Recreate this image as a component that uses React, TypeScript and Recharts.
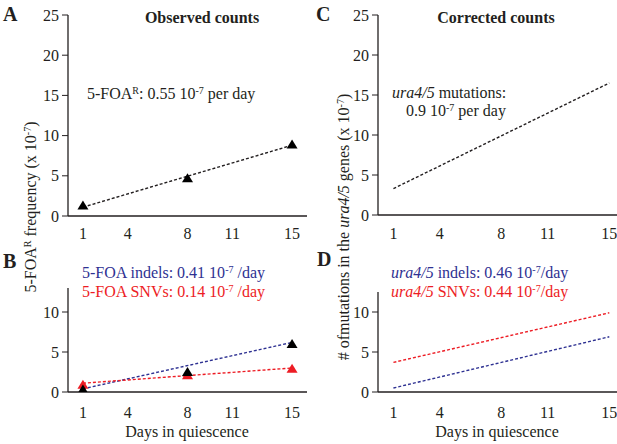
import React from 'react';
import { LineChart, Line, XAxis, YAxis } from 'recharts';

// shared x positions (days in quiescence)
const days = [1, 8, 15];
const dayTicks = [1, 4, 8, 11, 15];

// A: observed 5-FOA resistant frequency
const aObserved = [1.3, 4.7, 8.9];
const aFit = [1.1, null, 8.8];

// B: observed indels / SNVs
const bIndels = [0.3, 2.5, 6.0];
const bSnvs = [0.9, 2.1, 2.9];
const bIndelFit = [0.4, null, 6.2];
const bSnvFit = [1.1, null, 3.0];

// C: corrected counts
const cFit = [3.3, null, 16.5];

// D: corrected indels / SNVs
const dIndelFit = [0.5, null, 6.9];
const dSnvFit = [3.7, null, 9.9];

const topTicks = [0, 5, 10, 15, 20, 25];
const bottomTicks = [0, 5, 10];

const W = 617;
const H = 444;
const FONT = '"Liberation Serif", "Times New Roman", serif';
const INK = '#231f20';
const NAVY = '#2e3192';
const RED = '#ed1c24';

const rowsA = days.map((day, i) => ({ day, obs: aObserved[i], fit: aFit[i] }));
const rowsB = days.map((day, i) => ({
  day,
  indels: bIndels[i],
  snvs: bSnvs[i],
  indelFit: bIndelFit[i],
  snvFit: bSnvFit[i],
}));
const rowsC = days.map((day, i) => ({ day, fit: cFit[i] }));
const rowsD = days.map((day, i) => ({ day, indelFit: dIndelFit[i], snvFit: dSnvFit[i] }));

const triangle = (color: string) => (props: any) => {
  const { cx, cy, index } = props;
  if (cx == null || cy == null) return <g key={`t-${index}`} />;
  return (
    <path
      key={`t-${index}`}
      d={`M${cx},${cy - 5}L${cx + 5.5},${cy + 4}L${cx - 5.5},${cy + 4}Z`}
      fill={color}
    />
  );
};

const tickStyle = { fill: INK, fontSize: 16, fontFamily: FONT };

type Plot = { left: number; top: number; right: number; bottom: number };

const Panel = ({
  plot,
  rows,
  xDomain,
  yDomain,
  yTicks,
  xTickMargin,
  children,
}: {
  plot: Plot;
  rows: any[];
  xDomain: [number, number];
  yDomain: [number, number];
  yTicks: number[];
  xTickMargin: number;
  children: React.ReactNode;
}) => {
  const yW = 40;
  const xH = 30;
  return (
    <div style={{ position: 'absolute', left: 0, top: 0 }}>
      <LineChart
        width={W}
        height={H}
        data={rows}
        margin={{
          top: plot.top,
          left: plot.left - yW,
          right: W - plot.right,
          bottom: H - plot.bottom - xH,
        }}
      >
        <XAxis
          type="number"
          dataKey="day"
          domain={xDomain}
          ticks={dayTicks}
          interval={0}
          tickLine={false}
          tickSize={6}
          tickMargin={xTickMargin}
          axisLine={{ stroke: INK, strokeWidth: 1.3 }}
          tick={tickStyle}
          height={xH}
          allowDataOverflow
        />
        <YAxis
          type="number"
          domain={yDomain}
          ticks={yTicks}
          interval={0}
          tickSize={6}
          tickMargin={3}
          axisLine={{ stroke: INK, strokeWidth: 1.3 }}
          tickLine={{ stroke: INK, strokeWidth: 1 }}
          tick={tickStyle}
          width={yW}
          allowDataOverflow
        />
        {children}
      </LineChart>
    </div>
  );
};

const dashed = { strokeDasharray: '3 2', strokeWidth: 1.4 };

const Sup = ({ children }: { children: React.ReactNode }) => (
  <tspan baselineShift="super" fontSize={10}>
    {children}
  </tspan>
);

const App: React.FC = () => {
  return (
    <div style={{ position: 'absolute', left: 0, top: 0, width: W, height: H, background: '#fff' }}>
      <Panel plot={{ left: 68, top: 15, right: 307, bottom: 216 }} rows={rowsA} xDomain={[0, 16]} yDomain={[0, 25]} yTicks={topTicks} xTickMargin={6}>
        <Line dataKey="fit" stroke={INK} {...dashed} dot={false} connectNulls isAnimationActive={false} />
        <Line dataKey="obs" stroke="none" dot={triangle('#000')} activeDot={false} isAnimationActive={false} />
      </Panel>

      <Panel plot={{ left: 68, top: 288, right: 307, bottom: 392 }} rows={rowsB} xDomain={[0, 16]} yDomain={[0, 13]} yTicks={bottomTicks} xTickMargin={9}>
        <Line dataKey="indelFit" stroke={NAVY} {...dashed} dot={false} connectNulls isAnimationActive={false} />
        <Line dataKey="snvFit" stroke={RED} {...dashed} dot={false} connectNulls isAnimationActive={false} />
        <Line dataKey="snvs" stroke="none" dot={triangle(RED)} activeDot={false} isAnimationActive={false} />
        <Line dataKey="indels" stroke="none" dot={triangle('#000')} activeDot={false} isAnimationActive={false} />
      </Panel>

      <Panel plot={{ left: 378, top: 15, right: 617, bottom: 215 }} rows={rowsC} xDomain={[0, 15.5]} yDomain={[0, 25]} yTicks={topTicks} xTickMargin={7}>
        <Line dataKey="fit" stroke={INK} {...dashed} dot={false} connectNulls isAnimationActive={false} />
      </Panel>

      <Panel plot={{ left: 378, top: 292, right: 617, bottom: 392 }} rows={rowsD} xDomain={[0, 15.5]} yDomain={[0, 12.5]} yTicks={bottomTicks} xTickMargin={9}>
        <Line dataKey="snvFit" stroke={RED} {...dashed} dot={false} connectNulls isAnimationActive={false} />
        <Line dataKey="indelFit" stroke={NAVY} {...dashed} dot={false} connectNulls isAnimationActive={false} />
      </Panel>

      <svg
        width={W}
        height={H}
        style={{ position: 'absolute', left: 0, top: 0, pointerEvents: 'none' }}
        fontFamily={FONT}
        fill={INK}
      >
        <text x={3} y={21} fontSize={20} fontWeight="bold">A</text>
        <text x={3} y={268} fontSize={20} fontWeight="bold">B</text>
        <text x={316} y={21} fontSize={20} fontWeight="bold">C</text>
        <text x={317} y={266} fontSize={20} fontWeight="bold">D</text>

        <text x={202} y={23} fontSize={16} fontWeight="bold" textAnchor="middle">Observed counts</text>
        <text x={496} y={23} fontSize={16} fontWeight="bold" textAnchor="middle">Corrected counts</text>

        <text x={87} y={99} fontSize={16}>
          5-FOA<Sup>R</Sup>: 0.55 10<Sup>-7</Sup> per day
        </text>

        <text x={392} y={98} fontSize={16}>
          <tspan fontStyle="italic">ura4/5</tspan> mutations:
        </text>
        <text x={406} y={116} fontSize={16}>
          0.9 10<Sup>-7</Sup> per day
        </text>

        <text x={82} y={278} fontSize={16} fill={NAVY}>
          5-FOA indels: 0.41 10<Sup>-7</Sup> /day
        </text>
        <text x={82} y={297} fontSize={16} fill={RED}>
          5-FOA SNVs: 0.14 10<Sup>-7</Sup> /day
        </text>

        <text x={391} y={278} fontSize={16} fill={NAVY}>
          <tspan fontStyle="italic">ura4/5</tspan> indels: 0.46 10<Sup>-7</Sup>/day
        </text>
        <text x={391} y={297} fontSize={16} fill={RED}>
          <tspan fontStyle="italic">ura4/5</tspan> SNVs: 0.44 10<Sup>-7</Sup>/day
        </text>

        <text x={187} y={437} fontSize={16} textAnchor="middle">Days in quiescence</text>
        <text x={497} y={437} fontSize={16} textAnchor="middle">Days in quiescence</text>

        <text transform="translate(36,207) rotate(-90)" fontSize={16} textAnchor="middle">
          5-FOA<Sup>R</Sup> frequency (x 10<Sup>-7</Sup>)
        </text>
        <text transform="translate(349,227) rotate(-90)" fontSize={16} textAnchor="middle">
          # ofmutations in the <tspan fontStyle="italic">ura4/5</tspan> genes (x 10<Sup>-7</Sup>)
        </text>
      </svg>
    </div>
  );
};

export default App;
